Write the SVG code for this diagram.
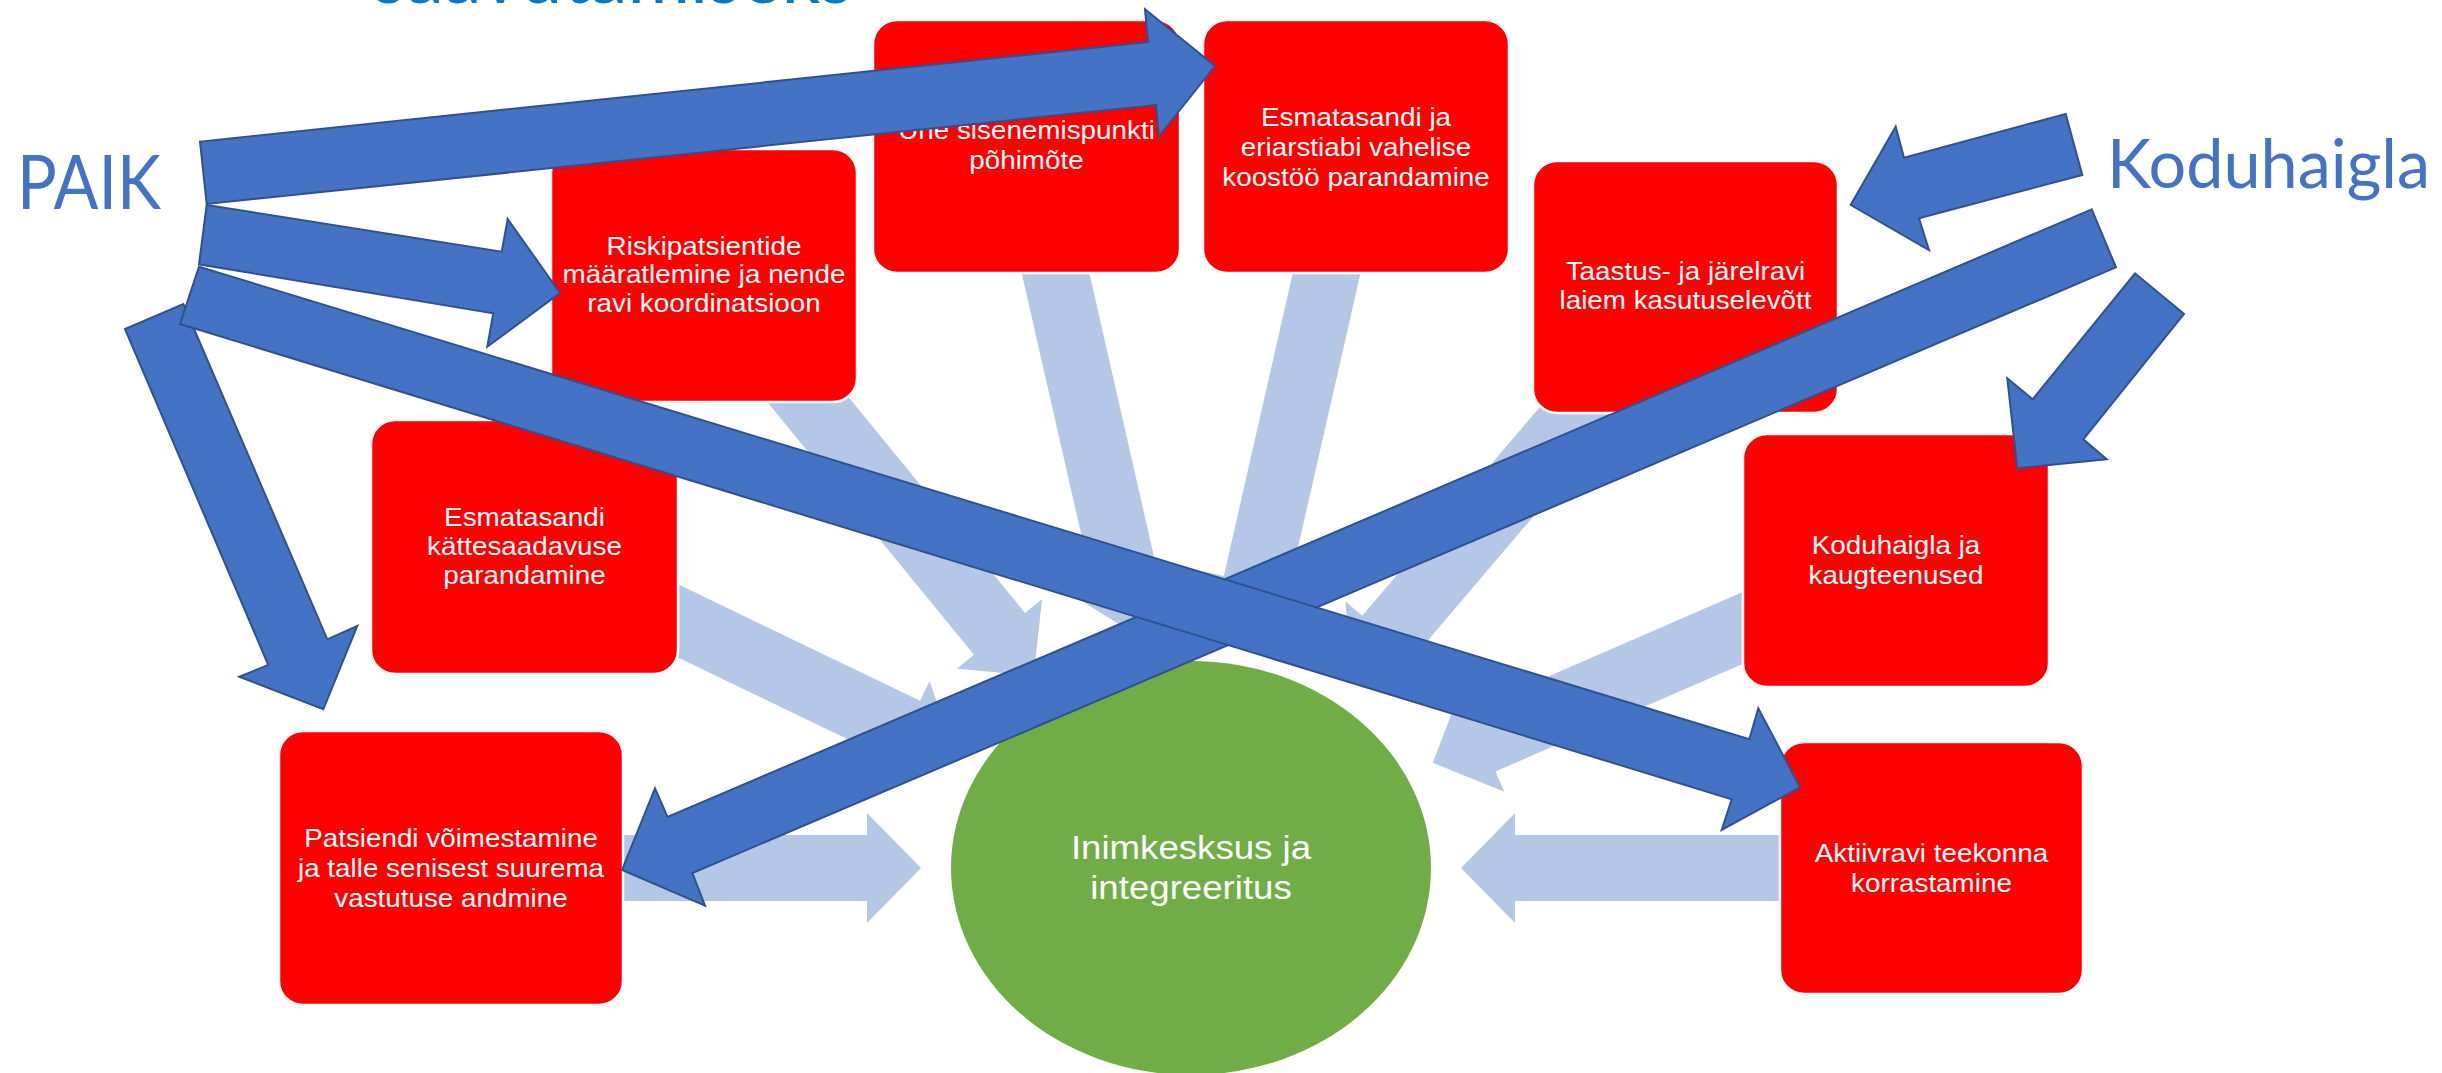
<svg xmlns="http://www.w3.org/2000/svg" width="2442" height="1073" viewBox="0 0 2442 1073">
  <style>
    .box { fill: #FF0000; stroke: #FFFFFF; stroke-width: 2.5; }
    .lbl { font-family: "Liberation Sans", Arial, sans-serif; font-size: 25.3px; fill: #FFFFFF; text-anchor: middle; }
    .core { fill: #70AD47; }
    .corelbl { font-family: "Liberation Sans", Arial, sans-serif; font-size: 33px; fill: #FFFFFF; text-anchor: middle; }
    .flow { fill: #B4C7E7; }
    .link { fill: #4472C4; stroke: #2F528F; stroke-width: 2; stroke-linejoin: miter; }
    .side { font-family: Lato, "Open Sans", sans-serif; fill: #4472C4; }
    .title { font-family: Lato, "Open Sans", sans-serif; fill: #0A78C8; }
  </style>

  <rect width="2442" height="1073" fill="#FFFFFF"/>

  <!-- heading, mostly above the top edge -->
  <text class="title" x="373" y="3" font-size="80" textLength="480" lengthAdjust="spacingAndGlyphs">saavutamiseks</text>

  <!-- broad arrows from every measure into the centre -->
  <g id="connectors-flow">
    <polygon class="flow" transform="translate(1138.2 636) rotate(77.17)" points="-396,-33 -54,-33 -54,-55 0,0 -54,55 -54,33 -396,33"/>
    <polygon class="flow" transform="translate(1244 636) rotate(102.83)" points="-396,-33 -54,-33 -54,-55 0,0 -54,55 -54,33 -396,33"/>
    <polygon class="flow" transform="translate(1033.7 675.7) rotate(50.73)" points="-395,-33 -54,-33 -54,-55 0,0 -54,55 -54,33 -395,33"/>
    <polygon class="flow" transform="translate(1352.4 678.3) rotate(130.38)" points="-391,-33 -54,-33 -54,-55 0,0 -54,55 -54,33 -391,33"/>
    <polygon class="flow" transform="translate(954.4 754) rotate(25.72)" points="-338,-33 -54,-33 -54,-55 0,0 -54,55 -54,33 -338,33"/>
    <polygon class="flow" transform="translate(1432.8 762.8) rotate(156.48)" points="-368,-33 -54,-33 -54,-55 0,0 -54,55 -54,33 -368,33"/>
    <polygon class="flow" transform="translate(921 868)" points="-321,-33 -54,-33 -54,-55 0,0 -54,55 -54,33 -321,33"/>
    <polygon class="flow" transform="translate(1461 868) rotate(180)" points="-339,-33 -54,-33 -54,-55 0,0 -54,55 -54,33 -339,33"/>
  </g>

  <!-- measures -->
  <g id="node-sisenemispunkt">
    <rect class="box" x="873" y="20" width="307" height="253" rx="24"/>
    <g transform="translate(1026.5 0) scale(1.1 1)">
      <text class="lbl"><tspan x="0" y="139.5">Ühe sisenemispunkti</tspan><tspan x="0" y="169">põhimõte</tspan></text>
    </g>
  </g>

  <g id="node-koostoo">
    <rect class="box" x="1203" y="20" width="306" height="253" rx="24"/>
    <g transform="translate(1356 0) scale(1.1 1)">
      <text class="lbl"><tspan x="0" y="126">Esmatasandi ja</tspan><tspan x="0" y="156">eriarstiabi vahelise</tspan><tspan x="0" y="186">koostöö parandamine</tspan></text>
    </g>
  </g>

  <g id="node-riskipatsiendid">
    <rect class="box" x="551" y="149" width="306" height="253" rx="24"/>
    <g transform="translate(704 0) scale(1.1 1)">
      <text class="lbl"><tspan x="0" y="255">Riskipatsientide</tspan><tspan x="0" y="283.5">määratlemine ja nende</tspan><tspan x="0" y="312">ravi koordinatsioon</tspan></text>
    </g>
  </g>

  <g id="node-taastusravi">
    <rect class="box" x="1533" y="161" width="305" height="252" rx="24"/>
    <g transform="translate(1685.5 0) scale(1.1 1)">
      <text class="lbl"><tspan x="0" y="280">Taastus- ja järelravi</tspan><tspan x="0" y="309.5">laiem kasutuselevõtt</tspan></text>
    </g>
  </g>

  <g id="node-kattesaadavus">
    <rect class="box" x="371" y="420" width="307" height="254" rx="24"/>
    <g transform="translate(524.5 0) scale(1.1 1)">
      <text class="lbl"><tspan x="0" y="526.5">Esmatasandi</tspan><tspan x="0" y="555.5">kättesaadavuse</tspan><tspan x="0" y="584.5">parandamine</tspan></text>
    </g>
  </g>

  <g id="node-koduhaigla">
    <rect class="box" x="1743" y="434" width="306" height="253" rx="24"/>
    <g transform="translate(1896 0) scale(1.1 1)">
      <text class="lbl"><tspan x="0" y="554">Koduhaigla ja</tspan><tspan x="0" y="584">kaugteenused</tspan></text>
    </g>
  </g>

  <g id="node-patsient">
    <rect class="box" x="279" y="731" width="344" height="274" rx="24"/>
    <g transform="translate(451 0) scale(1.1 1)">
      <text class="lbl"><tspan x="0" y="846.7">Patsiendi võimestamine</tspan><tspan x="0" y="876.7">ja talle senisest suurema</tspan><tspan x="0" y="906.7">vastutuse andmine</tspan></text>
    </g>
  </g>

  <g id="node-aktiivravi">
    <rect class="box" x="1780" y="742" width="303" height="252" rx="24"/>
    <g transform="translate(1931.5 0) scale(1.1 1)">
      <text class="lbl"><tspan x="0" y="862.5">Aktiivravi teekonna</tspan><tspan x="0" y="892.5">korrastamine</tspan></text>
    </g>
  </g>

  <!-- centre -->
  <g id="node-inimkesksus">
    <ellipse class="core" cx="1191" cy="868" rx="240" ry="207"/>
    <g transform="translate(1191 0) scale(1.11 1)">
      <text class="corelbl"><tspan x="0" y="859.5">Inimkesksus ja</tspan><tspan x="0" y="899">integreeritus</tspan></text>
    </g>
  </g>

  <!-- actors -->
  <g id="node-paik">
    <text class="side" x="17" y="209" font-size="76" textLength="144" lengthAdjust="spacingAndGlyphs">PAIK</text>
  </g>
  <g id="node-koduhaigla-actor">
    <text class="side" x="2107" y="188" font-size="67.5" textLength="323" lengthAdjust="spacingAndGlyphs">Koduhaigla</text>
  </g>

  <!-- block arrows from the actors to the measures -->
  <g id="connectors-links">
    <polygon class="link" points="183.3,304 327.3,639.3 357.3,626 323.3,709.3 239.3,676.7 268.3,665 125,329"/>
    <polygon class="link" points="2091.7,209.3 667.5,817 655,788.4 622,870 705,905.6 692.4,873 2116,267.3"/>
    <polygon class="link" points="199,266.7 1749.3,739.3 1758.3,708.3 1800,787.3 1721.7,830 1731.7,799.3 180,324"/>
    <polygon class="link" points="200,141.7 1148,42 1145,9.3 1215,66 1159,136 1156,105 206.7,204"/>
    <polygon class="link" points="206.7,205 501.7,251.7 507.7,219 560,293 487.3,346.7 493.3,313.3 199,264.3"/>
    <polygon class="link" points="2065.7,114 1904,157.7 1895.7,126.7 1850.7,205 1929,250 1919,218.3 2082.3,175"/>
    <polygon class="link" points="2135,273.3 2032.7,399.3 2007.3,378.3 2017.3,468.3 2106.7,459.3 2083.3,439.3 2184,314"/>
  </g>
</svg>
